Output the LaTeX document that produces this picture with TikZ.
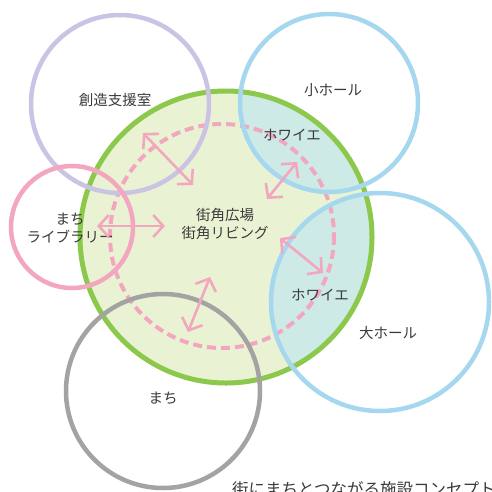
\documentclass[tikz,border=0pt]{standalone}
\usepackage{fontspec}
\setmainfont{Noto Sans CJK JP}
\usetikzlibrary{arrows.meta}
\definecolor{grn}{HTML}{8CC84B}
\definecolor{grnfill}{HTML}{E9F3D3}
\definecolor{tealfill}{HTML}{CDEAE6}
\definecolor{blu}{HTML}{A5D8EE}
\definecolor{pur}{HTML}{CBC3E4}
\definecolor{pnk}{HTML}{F2A7BF}
\definecolor{gry}{HTML}{A3A3A3}
\definecolor{txt}{HTML}{3A3A3A}
\tikzset{
  ring/.style={line width=4.5pt},
  lbl/.style={text=txt, font=\fontsize{14.5}{18}\selectfont, inner sep=0pt, align=center},
  link/.style={pnk, line width=2.6pt, {Straight Barb[length=10pt,width=22pt]}-{Straight Barb[length=10pt,width=22pt]}},
}
\begin{document}
\begin{tikzpicture}[x=1pt,y=-1pt]
\useasboundingbox[fill=white] (0,0) rectangle (492,491);
% central plaza
\fill[grnfill] (226,237) circle[radius=146];
\begin{scope}
  \clip (226,237) circle[radius=146];
  \fill[tealfill] (329,103) circle[radius=89];
  \fill[tealfill] (380,302) circle[radius=110];
\end{scope}
\draw[pnk, line width=4pt, dash pattern=on 9pt off 5pt] (222,236) circle[radius=112];
\draw[grn, line width=5pt] (226,237) circle[radius=146];
% surrounding rings
\draw[pur, ring] (120,104) circle[radius=89];
\draw[blu, ring] (329,103) circle[radius=89];
\draw[blu, ring] (380,302) circle[radius=109];
\draw[pnk, ring] (72,227) circle[radius=61];
\draw[gry, ring] (163,391) circle[radius=97];
% labels
\node[lbl] (sozo) at (115,100) {創造支援室};
\node[lbl] (shohall) at (333,90) {小ホール};
\node[lbl] (foyer1) at (292,135) {ホワイエ};
\node[lbl] (plaza) at (225,224) {街角広場\\街角リビング};
\node[lbl] (lib) at (70,228) {まち\\ライブラリー};
\node[lbl] (foyer2) at (320,295) {ホワイエ};
\node[lbl] (daihall) at (388,333) {大ホール};
\node[lbl] (machi) at (163,398) {まち};
\node[text=txt, font=\fontsize{16.5}{20}\selectfont, inner sep=0pt, anchor=base west] (caption) at (232,495) {街にまちとつながる施設コンセプト};
% arrows
\coordinate (a1) at (143,133); \coordinate (b1) at (193,185);
\coordinate (a2) at (97,226);  \coordinate (b2) at (165,226);
\coordinate (a3) at (297,162); \coordinate (b3) at (267,199);
\coordinate (a4) at (280,238); \coordinate (b4) at (323,273);
\coordinate (a5) at (210,277); \coordinate (b5) at (188,332);
\draw[link] (a1) -- (b1);
\draw[link] (a2) -- (b2);
\draw[link] (a3) -- (b3);
\draw[link] (a4) -- (b4);
\draw[link] (a5) -- (b5);
\end{tikzpicture}
\end{document}
